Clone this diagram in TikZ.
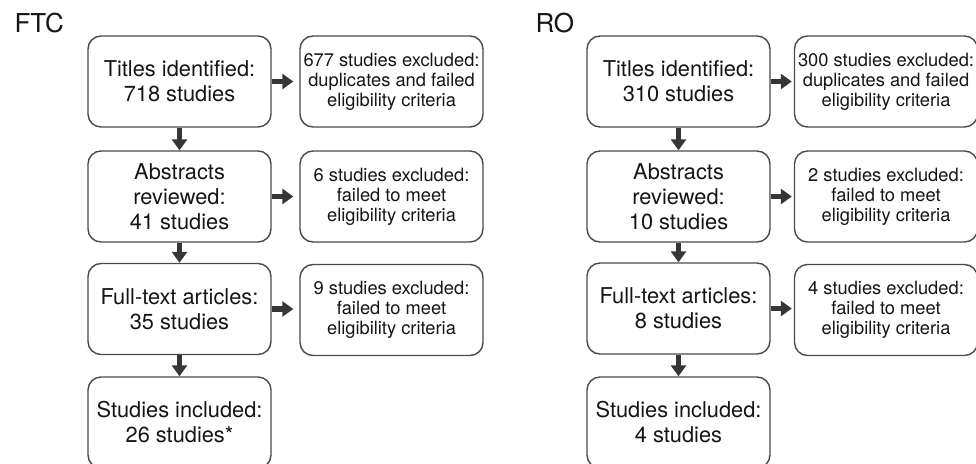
\documentclass[tikz,border=0pt]{standalone}
\usepackage{fontspec}
\setmainfont{TeX Gyre Heros}
\usetikzlibrary{arrows.meta,positioning}

\definecolor{boxgray}{HTML}{4A4A4A}
\definecolor{arrowgray}{HTML}{363636}
\definecolor{textblack}{HTML}{151515}

\tikzset{
  stagebox/.style={draw=boxgray, line width=1.4pt, rounded corners=13pt,
    minimum width=183pt, minimum height=91pt, inner sep=0pt,
    align=center, text=textblack, font=\fontsize{21.8}{25}\selectfont},
  dropbox/.style={stagebox, font=\fontsize{18.3}{20}\selectfont},
  flowarrow/.style={draw=arrowgray, line width=5.5pt,
    -{Triangle[width=15pt,length=11pt]}},
  paneltitle/.style={anchor=base west, text=textblack,
    font=\fontsize{26}{26}\selectfont},
}

\begin{document}
\begin{tikzpicture}[x=1pt, y=-1pt]
  \useasboundingbox (0,0) rectangle (976,463);
  \clip (0,0) rectangle (976,463);

  % FTC
  \node[paneltitle] (ftctitle) at (11,32.5) {FTC};
  \node[stagebox] (ftcA) at (179.5,81.5) {Titles identified:\\718 studies};
  \node[stagebox] (ftcB) at (179.5,196.5) {Abstracts\\reviewed:\\41 studies};
  \node[stagebox] (ftcC) at (179.5,309) {Full-text articles:\\35 studies};
  \node[stagebox] (ftcD) at (179.5,422.5) {Studies included:\\26 studies*};
  \node[dropbox] (ftcxA) at (391.5,81.5) {677 studies excluded:\\duplicates and failed\\eligibility criteria};
  \node[dropbox] (ftcxB) at (391.5,196.5) {6 studies excluded:\\failed to meet\\eligibility criteria};
  \node[dropbox] (ftcxC) at (391.5,310) {9 studies excluded:\\failed to meet\\eligibility criteria};

  \draw[flowarrow] (ftcA) -- (ftcB);
  \draw[flowarrow] (ftcB) -- (ftcC);
  \draw[flowarrow] (ftcC) -- (ftcD);
  \draw[flowarrow, shorten >=6pt] (ftcA.east) -- (ftcxA.west |- ftcA.east);
  \draw[flowarrow, shorten >=6pt] (ftcB.east) -- (ftcxB.west |- ftcB.east);
  \draw[flowarrow, shorten >=6pt] (ftcC.east) -- (ftcxC.west |- ftcC.east);

  % RO
  \node[paneltitle] (rotitle) at (532,32.5) {RO};
  \node[stagebox] (roA) at (678.5,81.5) {Titles identified:\\310 studies};
  \node[stagebox] (roB) at (678.5,196.5) {Abstracts\\reviewed:\\10 studies};
  \node[stagebox] (roC) at (678.5,308.5) {Full-text articles:\\8 studies};
  \node[stagebox] (roD) at (678.5,422.5) {Studies included:\\4 studies};
  \node[dropbox] (roxA) at (886,81.5) {300 studies excluded:\\duplicates and failed\\eligibility criteria};
  \node[dropbox] (roxB) at (886,196.5) {2 studies excluded:\\failed to meet\\eligibility criteria};
  \node[dropbox] (roxC) at (886,310) {4 studies excluded:\\failed to meet\\eligibility criteria};

  \draw[flowarrow] (roA) -- (roB);
  \draw[flowarrow] (roB) -- (roC);
  \draw[flowarrow] (roC) -- (roD);
  \draw[flowarrow, shorten >=2pt] (roA.east) -- (roxA.west |- roA.east);
  \draw[flowarrow, shorten >=2pt] (roB.east) -- (roxB.west |- roB.east);
  \draw[flowarrow, shorten >=2pt] (roC.east) -- (roxC.west |- roC.east);
\end{tikzpicture}
\end{document}
